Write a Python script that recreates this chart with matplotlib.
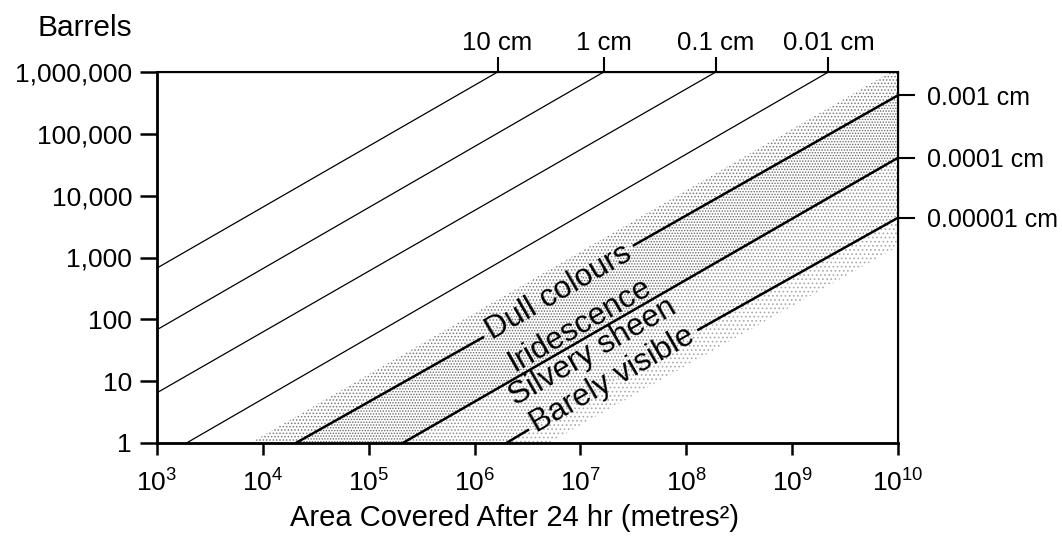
import matplotlib.pyplot as plt
from matplotlib.ticker import NullLocator

plt.rcParams['font.family'] = ['Liberation Sans', 'DejaVu Sans']
plt.rcParams['mathtext.fontset'] = 'custom'
plt.rcParams['mathtext.rm'] = 'Liberation Sans'
plt.rcParams['mathtext.it'] = 'Liberation Sans'
plt.rcParams['hatch.linewidth'] = 0.7

# Lines of equal slick thickness, end points (area m2, barrels)
thickness_labels = ['10 cm', '1 cm', '0.1 cm', '0.01 cm', '0.001 cm', '0.0001 cm', '0.00001 cm']
line_x0 = [1e3, 1e3, 1e3, 1.9e3, 2.05e4, 2.1e5, 2.0e6]
line_y0 = [675, 68, 6.5, 1, 1, 1, 1]
line_x1 = [1.65e6, 1.66e7, 1.9e8, 2.2e9, 1e10, 1e10, 1e10]
line_y1 = [1e6, 1e6, 1e6, 1e6, 4.2e5, 4.1e4, 4.4e3]
line_bold = [False, False, False, False, True, True, True]

# appearance bands (stippled), outer edges
band_top_x0, band_top_x1 = 7.6e3, 8.5e9
band_bot_x0, band_bot_y1 = 5.0e6, 1.5e3

# labels written along the lines
band_names = ['Dull colours', 'Iridescence', 'Silvery sheen', 'Barely visible']
name_x = [6.2e6, 9.8e6, 1.3e7, 2.0e7]
name_y = [270, 81, 30, 10.5]
# breaks in the lines where the text sits (line index, start, end)
gap_line = [4, 6]
gap_start = [(1.2e6, 51), (3.2e6, 1.62)]
gap_end = [(3.2e7, 1580), (1.3e8, 68)]

xticks = [1e3, 1e4, 1e5, 1e6, 1e7, 1e8, 1e9, 1e10]
yticks = [1, 10, 100, 1000, 1e4, 1e5, 1e6]
ytick_labels = ['1', '10', '100', '1,000', '10,000', '100,000', '1,000,000']

PX = 72 / 100  # points per pixel

fig = plt.figure(figsize=(10.62, 5.38), dpi=100)
ax = fig.add_axes([157 / 1062, 1 - 443 / 538, (898 - 157) / 1062, (443 - 72) / 538])
ax.set_xscale('log')
ax.set_yscale('log')
ax.set_xlim(1e3, 1e10)
ax.set_ylim(1, 1e6)

# stippled shading, denser in the middle band
bands = [
    ([band_top_x0, band_top_x1, 1e10, line_x1[4], line_x0[4]],
     [1, 1e6, 1e6, line_y1[4], line_y0[4]], '.....', '#7a7a7a'),
    ([line_x0[4], line_x1[4], line_x1[5], line_x0[5]],
     [line_y0[4], line_y1[4], line_y1[5], line_y0[5]], '......', '#6a6a6a'),
    ([line_x0[5], line_x1[5], line_x1[6], line_x0[6]],
     [line_y0[5], line_y1[5], line_y1[6], line_y0[6]], '.....', '#8a8a8a'),
    ([line_x0[6], line_x1[6], 1e10, band_bot_x0],
     [line_y0[6], line_y1[6], band_bot_y1, 1], '....', '#aaaaaa'),
]
for xs, ys, h, c in bands:
    ax.fill(xs, ys, facecolor='none', edgecolor=c, hatch=h, linewidth=0, zorder=1)

for i in range(len(thickness_labels)):
    lw = 1.8 if line_bold[i] else 0.9
    if i in gap_line:
        k = gap_line.index(i)
        ax.plot([line_x0[i], gap_start[k][0]], [line_y0[i], gap_start[k][1]], color='black', lw=lw, zorder=3)
        ax.plot([gap_end[k][0], line_x1[i]], [gap_end[k][1], line_y1[i]], color='black', lw=lw, zorder=3)
    else:
        ax.plot([line_x0[i], line_x1[i]], [line_y0[i], line_y1[i]], color='black', lw=lw, zorder=3)

for name, x, y in zip(band_names, name_x, name_y):
    ax.text(x, y, name, rotation=30, rotation_mode='anchor', ha='center', va='center',
            fontsize=22.5, zorder=4)

ax.set_xticks(xticks)
ax.set_xticklabels([f'$10^{{{i}}}$' for i in range(3, 11)])
ax.set_yticks(yticks)
ax.set_yticklabels(ytick_labels)
ax.xaxis.set_minor_locator(NullLocator())
ax.yaxis.set_minor_locator(NullLocator())
ax.tick_params(axis='x', direction='out', length=12 * PX, width=1.8, labelsize=19, pad=14 * PX)
ax.tick_params(axis='y', direction='out', length=17 * PX, width=1.8, labelsize=19, pad=8 * PX)
ax.set_xlabel('Area Covered After 24 hr (metres²)', fontsize=21)
ax.xaxis.set_label_coords((515 - 157) / 741, -0.165)
for side in ['left', 'bottom']:
    ax.spines[side].set_linewidth(2)
for side in ['top', 'right']:
    ax.spines[side].set_linewidth(1.5)

# thickness labels on top and right
top = ax.twiny()
top.set_xscale('log')
top.set_xlim(ax.get_xlim())
top.set_xticks(line_x1[:4])
top.set_xticklabels(thickness_labels[:4])
top.xaxis.set_minor_locator(NullLocator())
top.tick_params(axis='x', direction='out', length=15 * PX, width=1.5, labelsize=18.5, pad=2 * PX)

right = ax.twinx()
right.set_yscale('log')
right.set_ylim(ax.get_ylim())
right.set_yticks(line_y1[4:])
right.set_yticklabels(thickness_labels[4:])
right.yaxis.set_minor_locator(NullLocator())
right.tick_params(axis='y', direction='out', length=17 * PX, width=1.5, labelsize=18, pad=12 * PX)

fig.text(132 / 1062, 1 - 28 / 538, 'Barrels', ha='right', va='center', fontsize=21.5)

fig.savefig('out.png', dpi=100)
